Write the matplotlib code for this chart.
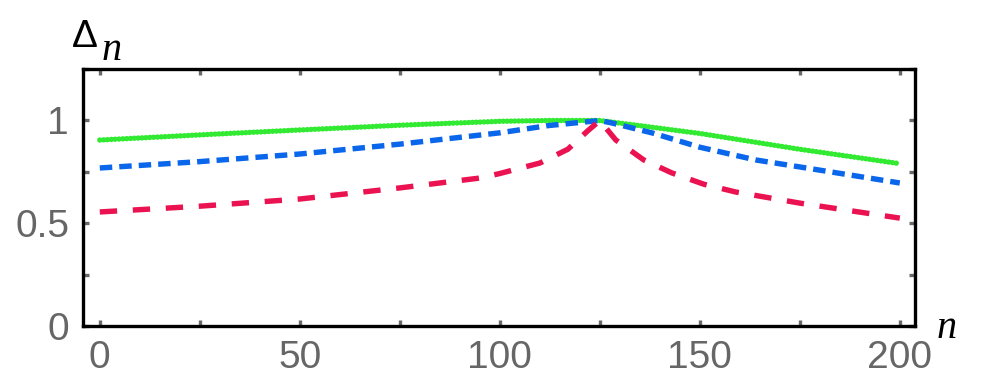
import matplotlib.pyplot as plt

plt.rcParams['font.family'] = 'Liberation Sans'

# values
n_green = [0, 25, 50, 75, 100, 112, 125, 135, 150, 164, 175, 200]
d_green = [0.905, 0.93, 0.954, 0.977, 0.996, 1.0, 1.0, 0.975, 0.937, 0.894, 0.86, 0.79]

n_blue = [0, 25, 50, 75, 100, 112, 125, 128, 138, 150, 164, 175, 200]
d_blue = [0.769, 0.80, 0.837, 0.885, 0.94, 0.975, 1.0, 0.988, 0.94, 0.87, 0.808, 0.774, 0.696]

n_red = [0, 25, 50, 75, 95, 100, 110, 117, 122, 125, 129, 136, 143, 151, 159, 175, 200]
d_red = [0.555, 0.583, 0.618, 0.672, 0.72, 0.742, 0.793, 0.86, 0.95, 1.0, 0.905, 0.808,
         0.745, 0.69, 0.652, 0.598, 0.525]

x_ticks = [0, 50, 100, 150, 200]
y_ticks = [0, 0.5, 1]
y_tick_labels = ['0', '0.5', '1']

fig = plt.figure(figsize=(10, 3.84), dpi=100)
ax = fig.add_axes([0.083, 0.151, 0.832, 0.669])

ax.plot(n_green, d_green, color='#33ea33', lw=3.9, linestyle=(0, (0.01, 0.7)),
        dash_capstyle='round')
ax.plot(n_blue, d_blue, color='#0a66ea', lw=3.9, linestyle=(0, (2.3, 1.3)),
        dash_capstyle='butt')
ax.plot(n_red, d_red, color='#ea1250', lw=3.9, linestyle=(0, (3.2, 2.9)),
        dash_capstyle='butt')

ax.set_xlim(-4.2, 203.8)
ax.set_ylim(0, 1.25)

ax.set_xticks(x_ticks)
ax.set_xticks([25, 75, 125, 175], minor=True)
ax.set_yticks(y_ticks, y_tick_labels)
ax.set_yticks([0.25, 0.75, 1.25], minor=True)

for s in ax.spines.values():
    s.set_linewidth(2.4)
ax.tick_params(which='both', direction='in', length=4, width=2.4, color='#6a6a6a',
               top=True, right=True)
ax.tick_params(which='major', labelsize=28, labelcolor='#666666', pad=10)

fig.text(0.072, 0.878, 'Δ', fontsize=28, color='black', va='baseline')
fig.text(0.102, 0.844, 'n', fontsize=29, color='black', va='baseline',
         family='Liberation Serif', style='italic')
fig.text(0.937, 0.12, 'n', fontsize=29, color='black', va='baseline',
         family='Liberation Serif', style='italic')

plt.savefig('out.png', dpi=100)
plt.close()
